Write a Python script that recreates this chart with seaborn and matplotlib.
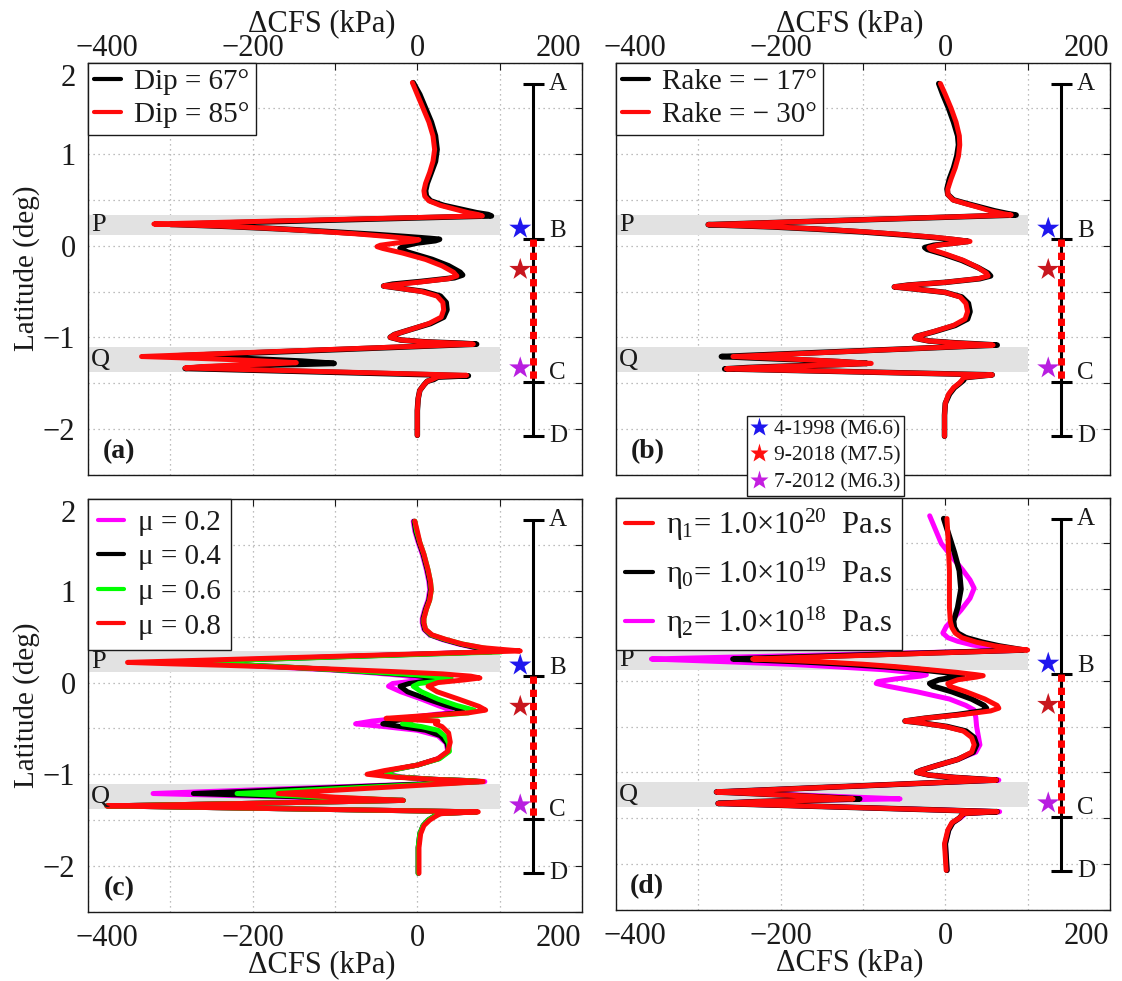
import numpy as np
import pandas as pd
import matplotlib
matplotlib.use("Agg")
import matplotlib.pyplot as plt
import matplotlib.transforms as mtransforms
from matplotlib.lines import Line2D
from matplotlib.ticker import FixedLocator, FuncFormatter
import seaborn as sns

# ---------------------------------------------------------------- data
# Panel (a): dip
lat_a67 = [1.78, 1.65, 1.50, 1.35, 1.20, 1.05, 0.92, 0.80, 0.68, 0.60,
           0.54, 0.49, 0.44, 0.40, 0.36, 0.34, 0.325, 0.233, 0.225, 0.21,
           0.185, 0.155, 0.125, 0.10, 0.08, 0.07, 0.055, 0.03, 0.00, -0.03,
           -0.07, -0.15, -0.22, -0.29, -0.32, -0.35, -0.39, -0.42, -0.44, -0.46,
           -0.50, -0.55, -0.62, -0.70, -0.78, -0.85, -0.92, -0.97, -1.00, -1.03,
           -1.05, -1.065, -1.075, -1.205, -1.215, -1.235, -1.26, -1.285, -1.295, -1.31,
           -1.325, -1.34, -1.42, -1.435, -1.46, -1.48, -1.52, -1.58, -1.67, -1.80,
           -2.07]
cfs_a67 = [-5, 3, 10, 17, 22, 24, 22, 17, 12, 10,
           11, 16, 32, 52, 72, 86, 90, -300, -275, -230,
           -170, -110, -55, -15, 15, 27, 22, 0, -15, -21,
           -12, 18, 38, 52, 55, 45, 5, -30, -41, -25,
           8, 28, 35, 36, 32, 16, -10, -28, -33, -20,
           10, 55, 72, -300, -265, -200, -140, -101, -140, -210,
           -260, -282, 62, 25, 20, 12, 8, 3, 1, 0,
           0]
lat_a85 = [1.78, 1.65, 1.50, 1.35, 1.20, 1.05, 0.92, 0.80, 0.68, 0.60,
           0.54, 0.49, 0.44, 0.40, 0.36, 0.34, 0.325, 0.237, 0.228, 0.215,
           0.19, 0.16, 0.13, 0.10, 0.08, 0.065, 0.05, 0.03, 0.005, -0.01,
           -0.03, -0.08, -0.15, -0.22, -0.29, -0.33, -0.36, -0.40, -0.43, -0.44,
           -0.46, -0.50, -0.55, -0.62, -0.70, -0.78, -0.85, -0.92, -0.97, -1.00,
           -1.03, -1.05, -1.065, -1.075, -1.21, -1.22, -1.235, -1.255, -1.277, -1.29,
           -1.305, -1.32, -1.335, -1.415, -1.43, -1.46, -1.48, -1.52, -1.58, -1.67,
           -1.80, -2.07]
cfs_a85 = [-6, 0, 7, 14, 19, 21, 19, 15, 10, 8,
           9, 14, 28, 45, 62, 74, 79, -320, -290, -240,
           -180, -125, -75, -35, -12, 2, -5, -25, -45, -49,
           -42, -18, 10, 30, 44, 48, 38, 0, -33, -41,
           -25, 5, 24, 31, 32, 29, 14, -10, -28, -33,
           -20, 10, 50, 68, -335, -300, -250, -195, -147, -175,
           -225, -262, -282, 60, 25, 18, 12, 8, 3, 1,
           0, 0]

# Panel (b): rake
lat_b = [1.77, 1.65, 1.50, 1.35, 1.20, 1.10, 0.98, 0.85, 0.73, 0.62,
         0.56, 0.50, 0.46, 0.42, 0.38, 0.35, 0.335, 0.23, 0.22, 0.205,
         0.18, 0.15, 0.12, 0.09, 0.065, 0.047, 0.03, 0.005, -0.02, -0.04,
         -0.09, -0.16, -0.24, -0.30, -0.33, -0.36, -0.40, -0.43, -0.45, -0.47,
         -0.51, -0.56, -0.63, -0.72, -0.80, -0.87, -0.94, -0.99, -1.01, -1.04,
         -1.06, -1.075, -1.085, -1.21, -1.225, -1.245, -1.265, -1.285, -1.30, -1.315,
         -1.33, -1.345, -1.41, -1.44, -1.47, -1.50, -1.55, -1.62, -1.72, -1.85,
         -2.08]
cfs_b17 = [-8, -3, 4, 10, 15, 16, 14, 10, 5, 2,
           3, 10, 26, 43, 60, 76, 86, -288, -258, -210,
           -155, -100, -55, -15, 12, 28, 12, -14, -25, -22,
           -3, 20, 40, 52, 55, 42, 0, -45, -62, -40,
           0, 20, 28, 30, 27, 12, -14, -35, -37, -20,
           12, 45, 63, -272, -235, -180, -130, -95, -135, -195,
           -240, -268, 57, 24, 22, 18, 11, 5, 0, -1,
           -1]
cfs_b30 = [-6, 0, 7, 13, 17, 17.5, 16, 12, 7, 3,
           3, 9, 24, 40, 55, 70, 80, -288, -255, -205,
           -150, -95, -50, -10, 15, 30, 15, -10, -20, -18,
           0, 22, 40, 50, 52, 40, 0, -45, -62, -40,
           0, 18, 25, 27, 24, 10, -15, -35, -37, -20,
           10, 40, 58, -258, -220, -170, -125, -90, -130, -190,
           -235, -266, 57, 22, 20, 17, 10, 4, 0, -1,
           -1]

# Panel (c): friction coefficient
lat_c = [1.76, 1.65, 1.53, 1.40, 1.23, 1.10, 1.01, 0.90, 0.80, 0.70,
         0.65, 0.58, 0.52, 0.47, 0.42, 0.38, 0.35, 0.335, 0.225, 0.21,
         0.19, 0.165, 0.14, 0.11, 0.08, 0.05, 0.02, -0.01, -0.04, -0.10,
         -0.18, -0.25, -0.30, -0.33, -0.37, -0.42, -0.45, -0.48, -0.52, -0.58,
         -0.66, -0.75, -0.83, -0.90, -0.96, -1.00, -1.03, -1.055, -1.07, -1.08,
         -1.21, -1.25, -1.285, -1.30, -1.32, -1.345, -1.41, -1.43, -1.46, -1.50,
         -1.56, -1.65, -1.80, -2.08]
cfs_c02 = [-5, -3, 1, 6, 11, 14, 15, 13, 9, 6,
           6, 8, 15, 30, 50, 70, 84, 86, -300, -265,
           -215, -160, -110, -60, -20, 5, 0, -30, -35, -20,
           5, 25, 41, 38, 0, -55, -75, -40, 0, 25,
           35, 37, 25, 0, -33, -33, -20, 20, 65, 82,
           -321, -150, -17, -100, -220, -377, 72, 26, 20, 13,
           7, 3, 1, 1]
cfs_c04 = [-4, -2, 2, 7, 12, 15, 16, 14, 10, 7,
           7, 9, 16, 32, 52, 72, 88, 90, -290, -255,
           -205, -150, -100, -50, -5, 23, 15, -10, -21, -12,
           12, 35, 55, 50, 5, -30, -42, -20, 10, 28,
           36, 38, 26, 0, -35, -42, -25, 20, 65, 75,
           -272, -130, -17, -100, -220, -377, 72, 26, 20, 13,
           7, 3, 1, 1]
cfs_c06 = [-3, -1, 3, 8, 13, 16, 17, 15, 11, 8,
           8, 10, 17, 34, 55, 78, 100, 102, -290, -255,
           -205, -150, -100, -45, 5, 41, 30, 2, -5, 5,
           25, 48, 69, 62, 10, -10, -18, 5, 25, 33,
           38, 39, 27, 0, -33, -38, -22, 20, 66, 78,
           -219, -110, -17, -100, -220, -377, 72, 26, 20, 13,
           7, 3, 1, 1]
lat_c08 = [1.76, 1.65, 1.53, 1.40, 1.23, 1.10, 1.01, 0.90, 0.80, 0.70,
           0.65, 0.58, 0.52, 0.47, 0.42, 0.38, 0.36, 0.345, 0.22, 0.205,
           0.19, 0.175, 0.15, 0.12, 0.095, 0.07, 0.05, 0.03, 0.00, -0.04,
           -0.10, -0.18, -0.26, -0.30, -0.33, -0.36, -0.39, -0.42, -0.45, -0.48,
           -0.55, -0.65, -0.75, -0.83, -0.90, -0.96, -1.00, -1.03, -1.055, -1.07,
           -1.08, -1.21, -1.25, -1.285, -1.30, -1.32, -1.345, -1.41, -1.43, -1.46,
           -1.50, -1.56, -1.65, -1.80, -2.08]
cfs_c08 = [-3, 0, 3, 8, 13, 16, 17, 15, 11, 8,
           8, 10, 18, 35, 55, 80, 105, 125, -352, -300,
           -240, -187, -110, -30, 30, 65, 76, 58, 25, 13,
           24, 50, 75, 83, 62, 10, -38, 25, 22, 30,
           38, 40, 37, 25, 0, -40, -61, -30, 20, 60,
           80, -169, -100, -17, -100, -220, -377, 74, 28, 22,
           15, 8, 4, 2, 2]

# Panel (d): viscosity
lat_d1 = [1.77, 1.60, 1.40, 1.20, 1.00, 0.80, 0.65, 0.58, 0.52, 0.47,
          0.42, 0.38, 0.35, 0.335, 0.237, 0.225, 0.205, 0.18, 0.153, 0.12,
          0.09, 0.065, 0.055, 0.04, 0.01, -0.03, -0.06, -0.12, -0.20, -0.27,
          -0.30, -0.33, -0.37, -0.41, -0.44, -0.46, -0.50, -0.55, -0.62, -0.70,
          -0.78, -0.86, -0.93, -0.98, -1.00, -1.03, -1.055, -1.075, -1.085, -1.215,
          -1.23, -1.255, -1.29, -1.305, -1.32, -1.34, -1.43, -1.45, -1.47, -1.50,
          -1.55, -1.63, -1.78, -2.07]
cfs_d1 = [2, 3, 4, 5, 5, 5, 6, 8, 12, 20,
          38, 60, 85, 100, -234, -200, -150, -100, -60, -20,
          15, 38, 46, 38, 15, 3, 5, 25, 48, 63,
          65, 55, 20, -25, -49, -30, 0, 22, 32, 35,
          32, 15, -12, -30, -35, -20, 10, 45, 62, -278,
          -240, -180, -112, -160, -230, -276, 63, 22, 20, 17,
          8, 3, -1, 1]
cfs_d0 = [-2, 4, 11, 17, 19, 15, 10, 11, 15, 25,
          45, 65, 85, 95, -258, -225, -170, -120, -75, -30,
          0, 18, 21, 12, -8, -19, -15, 8, 32, 47,
          50, 45, 15, -25, -49, -30, 2, 25, 35, 38,
          34, 15, -12, -30, -35, -20, 10, 45, 62, -278,
          -240, -180, -104, -160, -230, -276, 63, 22, 20, 17,
          9, 4, 0, 2]
lat_d2 = [1.80, 1.65, 1.50, 1.35, 1.21, 1.10, 1.01, 0.90, 0.77, 0.66,
          0.59, 0.52, 0.47, 0.43, 0.39, 0.36, 0.34, 0.33, 0.237, 0.225,
          0.205, 0.18, 0.15, 0.12, 0.09, 0.065, 0.05, 0.02, -0.01, -0.03,
          -0.06, -0.12, -0.20, -0.27, -0.32, -0.40, -0.50, -0.60, -0.70, -0.78,
          -0.86, -0.93, -0.98, -1.00, -1.03, -1.055, -1.075, -1.085, -1.215, -1.25,
          -1.29, -1.305, -1.32, -1.34, -1.43, -1.45, -1.47, -1.50, -1.55, -1.63,
          -1.78, -2.07]
cfs_d2 = [-19, -12, -5, 8, 21, 30, 35, 30, 19, 8,
          1, -3, 3, 15, 33, 55, 75, 85, -357, -320,
          -260, -190, -130, -75, -40, -23, -30, -60, -82, -84,
          -70, -35, 5, 25, 35, 37, 38, 40, 42, 37,
          15, -12, -30, -35, -20, 10, 45, 65, -278, -170,
          -55, -160, -230, -276, 66, 24, 22, 18, 9, 4,
          0, 2]

# Fault segment A-B-C-D and earthquakes
segment_names = ["A", "B", "C", "D"]
segment_lat = [1.77, 0.07, -1.49, -2.08]
segment_label_lat = [1.77, 0.16, -1.39, -2.08]
quake_labels = ["4-1998 (M6.6)", "9-2018 (M7.5)", "7-2012 (M6.3)"]
quake_lat = [0.19, -0.26, -1.335]
quake_colors = ["#1f17ee", "#c8161e", "#b81ee0"]
quake_legend_colors = ["#1f17ee", "#ff1010", "#c41ee0"]

band_names = ["P", "Q"]
band_lat = [(0.12, 0.34), (-1.38, -1.11)]
band_label_lat = [0.225, -1.25]

panel_tags = ["(a)", "(b)", "(c)", "(d)"]

# ---------------------------------------------------------------- style
sns.set_style("white")
plt.rcParams["font.family"] = ["Liberation Serif", "DejaVu Serif"]
plt.rcParams["mathtext.fontset"] = "custom"
plt.rcParams["mathtext.rm"] = "Liberation Serif"
plt.rcParams["mathtext.it"] = "Liberation Serif"
plt.rcParams["text.color"] = "#1a1a1a"
plt.rcParams["axes.labelcolor"] = "#1a1a1a"
plt.rcParams["xtick.color"] = "#1a1a1a"
plt.rcParams["ytick.color"] = "#1a1a1a"
plt.rcParams["axes.edgecolor"] = "#1a1a1a"

RED = "#ff0a0a"
BLACK = "#000000"
MAG = "#ff00ff"
GREEN = "#00ff00"

TICK_FS = 22
LAB_FS = 22

W, H = 1122, 981
fig = plt.figure(figsize=(W / 100, H / 100), dpi=100)
fig.patch.set_facecolor("white")


def frac(left, right, top, bottom):
    return [left / W, 1 - bottom / H, (right - left) / W, (bottom - top) / H]


ax_a = fig.add_axes(frac(88, 582, 62.5, 474.7))
ax_b = fig.add_axes(frac(616, 1110, 62.5, 474.7))
ax_c = fig.add_axes(frac(88, 582, 499.2, 911.8))
ax_d = fig.add_axes(frac(616, 1110, 497.5, 909.7))
axes = [ax_a, ax_b, ax_c, ax_d]

SEG_X = 141
QUAKE_X = 125
LW = 3.6


def shift(text, dx, dy):
    text.set_transform(text.get_transform() +
                       mtransforms.ScaledTranslation(dx / 100, dy / 100, fig.dpi_scale_trans))


def xfmt(v, p):
    v = int(round(v))
    if v % 200 != 0:
        return ""
    return ("\u2212" if v < 0 else "") + str(abs(v))


def yfmt(v, p):
    if abs(v - round(v)) > 1e-6:
        return ""
    v = int(round(v))
    return ("\u2212" if v < 0 else "") + str(abs(v))


def base(ax, top, left, tag):
    ax.set_xlim(-400, 200)
    ax.set_ylim(-2.5, 2.0)
    ax.set_axisbelow(True)
    ax.xaxis.set_major_locator(FixedLocator(np.arange(-400, 201, 100)))
    ax.yaxis.set_major_locator(FixedLocator(np.arange(-2.5, 2.01, 0.5)))
    ax.xaxis.set_major_formatter(FuncFormatter(xfmt))
    ax.yaxis.set_major_formatter(FuncFormatter(yfmt))
    ax.grid(True, color="#a8a8a8", linestyle=(0, (1, 3)), linewidth=0.9)
    for s in ax.spines.values():
        s.set_linewidth(1.0)
        s.set_color("#1a1a1a")
    ax.tick_params(axis="both", direction="in", length=5, width=0.8,
                   top=True, right=True, labelsize=TICK_FS)
    if top:
        ax.tick_params(axis="x", labeltop=True, labelbottom=False, pad=0)
        ax.xaxis.set_label_position("top")
        ax.set_xlabel("\u0394CFS (kPa)", fontsize=LAB_FS, labelpad=2)
    else:
        ax.tick_params(axis="x", labeltop=False, labelbottom=True, pad=9)
        ax.set_xlabel("\u0394CFS (kPa)", fontsize=LAB_FS, labelpad=-2)
    ax.xaxis.label.set_x(0.474)
    if left:
        ax.tick_params(axis="y", labelleft=True, pad=9)
        ax.set_ylabel("Latitude (deg)", fontsize=21, labelpad=2)
    else:
        ax.tick_params(axis="y", labelleft=False)
    xt = ax.xaxis.get_major_ticks()
    for lab in (xt[0].label1, xt[0].label2):
        shift(lab, 19, 0)
    for lab in (xt[-1].label1, xt[-1].label2):
        shift(lab, -24, 0)
    yt = ax.yaxis.get_major_ticks()
    shift(yt[-1].label1, 0, -12)

    # grey bands P and Q
    for name, (lo, hi), ly in zip(band_names, band_lat, band_label_lat):
        ax.fill_between([-400, 100], [lo, lo], [hi, hi], color="#e2e2e2",
                        linewidth=0, zorder=1)
        ax.text(-396, ly, name, fontsize=19, ha="left", va="center", zorder=6)

    # fault segment bar
    ax.plot([SEG_X, SEG_X], [segment_lat[0], segment_lat[-1]], color="black",
            lw=2.2, zorder=4, solid_capstyle="butt")
    for name, y, ly in zip(segment_names, segment_lat, segment_label_lat):
        ax.plot([SEG_X - 13, SEG_X + 13], [y, y], color="black", lw=2.2, zorder=4,
                solid_capstyle="butt")
        ax.text(SEG_X + 19, ly, name, fontsize=18, ha="left", va="center")
    ax.plot([SEG_X, SEG_X], [segment_lat[1], segment_lat[2]], color="#ff0000",
            lw=5, dashes=(1.05, 0.85), zorder=5, solid_capstyle="butt",
            dash_capstyle="butt")
    sns.scatterplot(x=[QUAKE_X] * len(quake_lat), y=quake_lat, hue=quake_labels,
                    palette=quake_colors, marker="*", s=280, edgecolor="none",
                    legend=False, ax=ax, zorder=6)

    ax.text(-362, -2.25, tag, fontsize=20, fontweight="bold", ha="center",
            va="center")


def curve(ax, lat, cfs, color, label, lw=LW):
    assert len(lat) == len(cfs), label
    df = pd.DataFrame({"cfs": cfs, "lat": lat})
    sns.lineplot(data=df, x="cfs", y="lat", sort=False, estimator=None,
                 color=color, lw=lw, ax=ax, label=label, legend=False,
                 solid_joinstyle="round", solid_capstyle="round")


def legend(ax, order, fs=21, lspace=0.12, bpad=0.2, hlen=0.9):
    h, l = ax.get_legend_handles_labels()
    mp = dict(zip(l, h))
    leg = ax.legend([mp[k] for k in order], order, loc="upper left",
                    bbox_to_anchor=(0, 1), borderaxespad=0, fontsize=fs,
                    frameon=True, fancybox=False, edgecolor="#1a1a1a",
                    framealpha=1, handlelength=hlen, handletextpad=0.45,
                    borderpad=bpad, labelspacing=lspace)
    leg.get_frame().set_linewidth(1.0)
    leg.set_zorder(10)
    for ln in leg.get_lines():
        ln.set_linewidth(3)
    return leg


# panel (a)
base(ax_a, True, True, panel_tags[0])
curve(ax_a, lat_a67, cfs_a67, BLACK, "Dip = 67\u00b0", lw=4.0)
curve(ax_a, lat_a85, cfs_a85, RED, "Dip = 85\u00b0")
legend(ax_a, ["Dip = 67\u00b0", "Dip = 85\u00b0"], lspace=0.22, bpad=0.22)

# panel (b)
rk17 = "Rake = \u2212 17\u00b0"
rk30 = "Rake = \u2212 30\u00b0"
base(ax_b, True, False, panel_tags[1])
curve(ax_b, lat_b, cfs_b17, BLACK, rk17, lw=4.0)
curve(ax_b, lat_b, cfs_b30, RED, rk30)
legend(ax_b, [rk17, rk30], lspace=0.22, bpad=0.22)

# panel (c)
mu_labels = ["\u03bc = 0.2", "\u03bc = 0.4", "\u03bc = 0.6", "\u03bc = 0.8"]
base(ax_c, False, True, panel_tags[2])
curve(ax_c, lat_c, cfs_c02, MAG, mu_labels[0])
curve(ax_c, lat_c, cfs_c04, BLACK, mu_labels[1])
curve(ax_c, lat_c, cfs_c06, GREEN, mu_labels[2])
curve(ax_c, lat_c08, cfs_c08, RED, mu_labels[3])
legend(ax_c, mu_labels, lspace=0.28, bpad=0.35)

# panel (d)
eta1 = r"$\eta_{1}$= 1.0$\times$10$^{20}$  Pa.s"
eta0 = r"$\eta_{0}$= 1.0$\times$10$^{19}$  Pa.s"
eta2 = r"$\eta_{2}$= 1.0$\times$10$^{18}$  Pa.s"
base(ax_d, False, False, panel_tags[3])
curve(ax_d, lat_d2, cfs_d2, MAG, eta2)
curve(ax_d, lat_d1, cfs_d0, BLACK, eta0, lw=4.0)
curve(ax_d, lat_d1, cfs_d1, RED, eta1)
legend(ax_d, [eta1, eta0, eta2], fs=22, lspace=0.42, bpad=0.3)

# earthquake legend (figure level)
qh = [Line2D([], [], linestyle="none", marker="*", markersize=14,
             markerfacecolor=c, markeredgecolor="none") for c in quake_legend_colors]
qleg = fig.legend(qh, quake_labels, loc="upper left",
                  bbox_to_anchor=(747 / W, 1 - 416 / H), bbox_transform=fig.transFigure,
                  borderaxespad=0, fontsize=15.5, frameon=True, fancybox=False,
                  edgecolor="#1a1a1a", framealpha=1, handlelength=0.8,
                  handletextpad=0.3, borderpad=0.15, labelspacing=0.3)
qleg.get_frame().set_linewidth(1.0)
qleg.set_zorder(20)

fig.savefig("out.png", dpi=100, facecolor="white")
